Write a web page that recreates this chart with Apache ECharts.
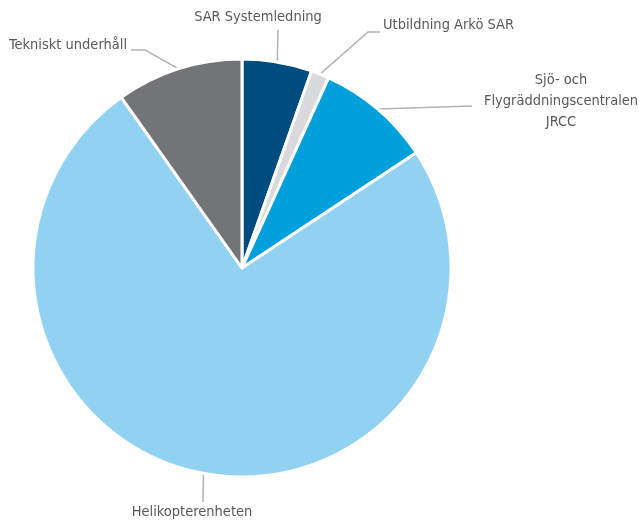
<!DOCTYPE html>
<html>
<head>
<meta charset="utf-8">
<script src="https://cdn.jsdelivr.net/npm/echarts@6/dist/echarts.min.js"></script>
<style>
  html, body { margin: 0; padding: 0; background: #fff; }
  #chart { width: 639px; height: 521px; }
</style>
</head>
<body>
<div id="chart"></div>
<script>
// andelar i procent, medurs från klockan 12
const names = [
  'SAR Systemledning',
  'Utbildning Arkö SAR',
  'Sjö- och\nFlygräddningscentralen\nJRCC',
  'Helikopterenheten',
  'Tekniskt underhåll'
];
const values = [5.4, 1.4, 8.9, 74.5, 9.8];
const colors = ['#004b7f', '#d9dadb', '#00a0dc', '#91d2f2', '#737478'];

// var etiketterna ska stå (text-ankare, justering) och leader-linjens knäck
const labelPos = [
  { x: 258, y: 17, align: 'center', bend: [278, 30], end: [278, 30] },
  { x: 383, y: 25, align: 'left', bend: [368, 32], end: [380, 32] },
  { x: 561, y: 101, align: 'center', bend: [472, 106], end: [472, 106] },
  { x: 192, y: 512, align: 'center', bend: [203, 502], end: [203, 502] },
  { x: 127, y: 45, align: 'right', bend: [145, 50], end: [131, 50] }
];

const chart = echarts.init(document.getElementById('chart'));

const option = {
  animation: false,
  series: [
    {
      type: 'pie',
      center: [242, 268],
      radius: 209,
      startAngle: 90,
      clockwise: true,
      silent: true,
      itemStyle: { borderColor: '#fff', borderWidth: 3 },
      label: {
        show: true,
        position: 'outside',
        fontFamily: '"Liberation Sans Narrow", "DejaVu Sans Condensed", sans-serif',
        fontSize: 14.5,
        lineHeight: 21,
        color: '#58595b'
      },
      labelLine: {
        show: true,
        length: 15,
        length2: 15,
        lineStyle: { color: '#b1b3b6', width: 1.5 }
      },
      labelLayout: function (params) {
        const p = labelPos[params.dataIndex];
        const pts = params.labelLinePoints;
        const res = { x: p.x, y: p.y, align: p.align, verticalAlign: 'middle' };
        if (pts && pts.length) {
          res.labelLinePoints = [pts[0], p.bend, p.end];
        }
        return res;
      },
      data: names.map((n, i) => ({
        name: n,
        value: values[i],
        itemStyle: { color: colors[i] }
      }))
    }
  ]
};

chart.setOption(option);
</script>
</body>
</html>
